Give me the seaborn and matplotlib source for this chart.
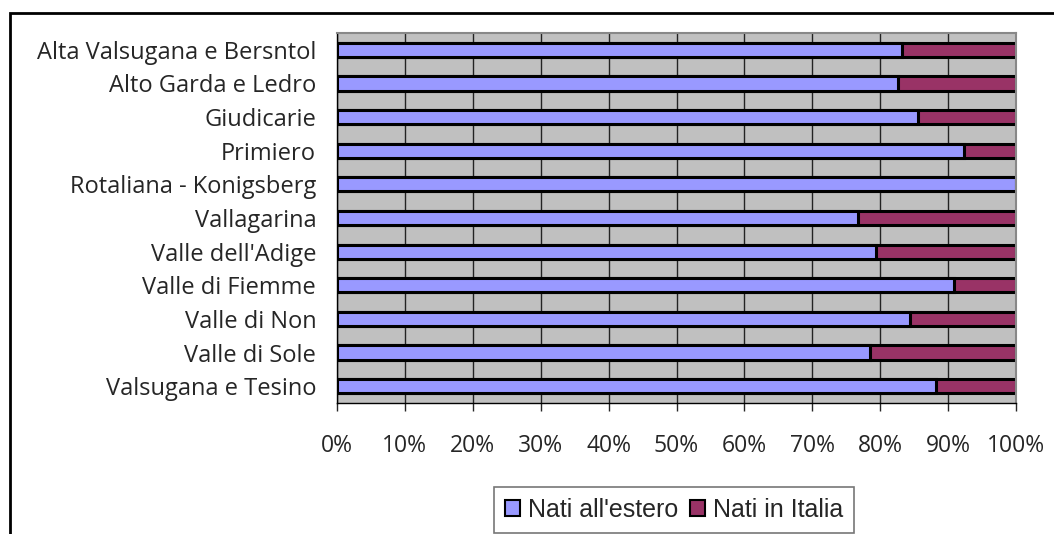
import pandas as pd
import numpy as np
import matplotlib
matplotlib.use("Agg")
import matplotlib.pyplot as plt
import seaborn as sns
from matplotlib.patches import Rectangle, Patch

# data (share of foreign-born, %)
zone = ["Alta Valsugana e Bersntol", "Alto Garda e Ledro", "Giudicarie", "Primiero",
        "Rotaliana - Konigsberg", "Vallagarina", "Valle dell'Adige", "Valle di Fiemme",
        "Valle di Non", "Valle di Sole", "Valsugana e Tesino"]
nati_estero = [83.2, 82.6, 85.6, 92.3, 100.0, 76.7, 79.4, 90.9, 84.4, 78.5, 88.2]
nati_italia = [100 - v for v in nati_estero]
xticks = list(range(0, 101, 10))

df = pd.DataFrame({"zona": zone, "estero": nati_estero, "italia": nati_italia})
df["totale"] = df["estero"] + df["italia"]

sns.set_style("white")
plt.rcParams["font.family"] = ["Open Sans", "DejaVu Sans"]

fig = plt.figure(figsize=(10.54, 5.34), dpi=100)
ax = fig.add_axes([337 / 1054, 1 - 403 / 534, (1016 - 337) / 1054, (403 - 33) / 534])
ax.set_facecolor("#C0C0C0")

# stacked: total first (maroon), then foreign-born on top (blue)
sns.barplot(data=df, y="zona", x="totale", orient="h", color="#993366",
            edgecolor="black", linewidth=2.2, width=0.42, ax=ax, saturation=1)
sns.barplot(data=df, y="zona", x="estero", orient="h", color="#9999FF",
            edgecolor="black", linewidth=2.2, width=0.42, ax=ax, saturation=1)

ax.set_xlim(0, 100)
ax.set_ylim(len(zone) - 0.5, -0.5)
ax.set_xticks(xticks)
ax.set_xticklabels([f"{t}%" for t in xticks], fontsize=16.5)
ax.set_yticks(range(len(zone)))
ax.set_yticklabels(zone, fontsize=17)
ax.set_xlabel("")
ax.set_ylabel("")
ax.grid(axis="x", color="#222222", linewidth=1)
ax.set_axisbelow(True)

ax.tick_params(axis="y", which="major", length=0, pad=15)
ax.set_yticks(np.arange(-0.5, len(zone), 1), minor=True)
ax.tick_params(axis="y", which="minor", length=6, width=1, direction="out")
ax.tick_params(axis="x", length=6, width=1, direction="out", pad=16, bottom=True)

for s in ["top", "right"]:
    ax.spines[s].set_color("#888888")
    ax.spines[s].set_linewidth(1.5)
for s in ["left", "bottom"]:
    ax.spines[s].set_color("black")
    ax.spines[s].set_linewidth(1)

handles = [Patch(facecolor="#9999FF", edgecolor="black", linewidth=1.5, label="Nati all'estero"),
           Patch(facecolor="#993366", edgecolor="black", linewidth=1.5, label="Nati in Italia")]
leg = fig.legend(handles=handles, loc="center", bbox_to_anchor=(674 / 1054, 1 - 510 / 534),
                 ncol=2, prop={"family": "Liberation Sans", "size": 18}, frameon=True,
                 fancybox=False, handlelength=0.6, handleheight=0.6, handletextpad=0.3,
                 columnspacing=0.5, borderpad=0.45, borderaxespad=0)
leg.get_frame().set_edgecolor("#555555")
leg.get_frame().set_linewidth(1.2)

# outer chart frame
fig.patches.append(Rectangle((10 / 1054, -0.1), 1.2, 1 - 13 / 534 + 0.1, transform=fig.transFigure,
                             fill=False, edgecolor="black", linewidth=2))

fig.savefig("out.png", dpi=100)
